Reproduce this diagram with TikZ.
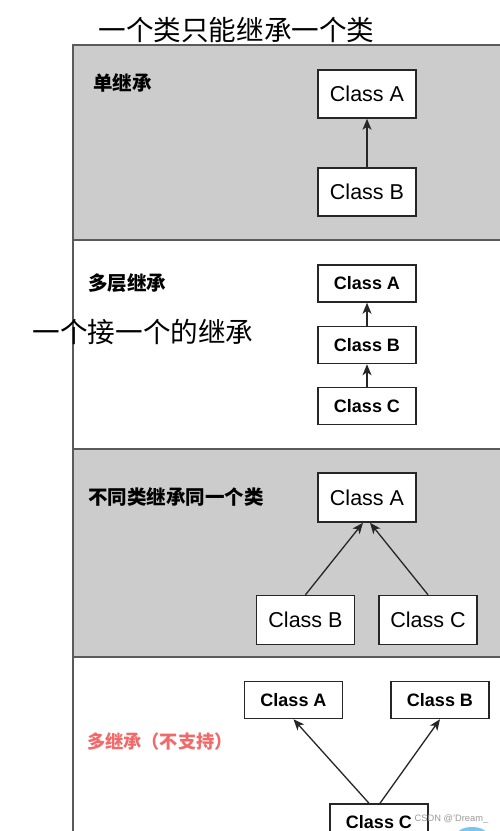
\documentclass[tikz,border=0pt]{standalone}
\usepackage{fontspec}
\setmainfont{Liberation Sans}
\newfontfamily\cjk{Noto Sans CJK SC}
\usetikzlibrary{arrows.meta}
\definecolor{panelgray}{HTML}{CCCCCC}
\definecolor{panelline}{HTML}{5A5A5A}
\definecolor{redlabel}{HTML}{F36868}
\definecolor{wmgray}{HTML}{9A9A9A}
\definecolor{blob}{HTML}{5BB8EE}
\tikzset{
  panel/.style={draw=panelline, line width=1.6pt},
  cls/.style={draw=black!85, fill=white, line width=1.5pt, minimum width=98pt, inner sep=0pt, font=\fontsize{21.5}{24}\selectfont},
  clsb/.style={cls, font=\fontsize{18}{21}\selectfont\bfseries},
  lbl/.style={anchor=west, inner sep=0pt, font=\cjk\fontsize{19.5}{22}\selectfont\bfseries},
  note/.style={inner sep=0pt, font=\cjk\fontsize{27.6}{30}\selectfont},
  inh/.style={draw=black!85, line width=1.3pt, -{Stealth[length=11pt,width=9pt,inset=3pt]}}
}
\begin{document}
\begin{tikzpicture}[x=1pt,y=-1pt]
\useasboundingbox (0,0) rectangle (500,831);
\clip (0,0) rectangle (500,831);
\fill[white] (0,0) rectangle (500,831);
% panels
\draw[panel, fill=panelgray] (73,45) rectangle (520,240);
\draw[panel, fill=white] (73,240) rectangle (520,449);
\draw[panel, fill=panelgray] (73,449) rectangle (520,657);
\draw[panel, fill=white] (73,657) rectangle (520,860);
% titles and notes
\node[note] (title) at (236.5,30) {一个类只能继承一个类};
% panel 1
\node[lbl] (l1) at (93,83) {单继承};
\node[cls, minimum height=48pt] (a1) at (367,94) {Class A};
\node[cls, minimum height=48pt] (b1) at (367,192) {Class B};
\draw[inh] (b1) -- (a1);
% panel 2
\node[lbl] (l2) at (88,283) {多层继承};
\node[clsb, minimum height=37pt] (a2) at (367,283.5) {Class A};
\node[clsb, minimum height=37pt] (b2) at (367,345) {Class B};
\node[clsb, minimum height=37pt] (c2) at (367,406) {Class C};
\draw[inh] (b2) -- (a2);
\draw[inh] (c2) -- (b2);
\node[note] (n2) at (143,331.5) {一个接一个的继承};
% panel 3
\node[lbl] (l3) at (88,497) {不同类继承同一个类};
\node[cls, minimum height=49pt] (a3) at (367,497.5) {Class A};
\node[cls, minimum height=49pt] (b3) at (305.5,620) {Class B};
\node[cls, minimum height=49pt] (c3) at (428,620) {Class C};
\draw[inh] (b3.north) -- ([xshift=-4pt]a3.south);
\draw[inh] (c3.north) -- ([xshift=3pt]a3.south);
% panel 4
\node[lbl, text=redlabel, font=\cjk\fontsize{18.2}{21}\selectfont\bfseries] (l4) at (87,742) {多继承（不支持）};
\node[clsb, minimum height=37pt] (a4) at (293.5,700) {Class A};
\node[clsb, minimum height=37pt] (b4) at (440,700) {Class B};
\node[clsb, minimum height=37pt] (c4) at (379,822.5) {Class C};
\draw[inh] ([xshift=-10pt]c4.north) -- (a4.south);
\draw[inh] ([xshift=1pt]c4.north) -- (b4.south);
% watermark
\fill[blob, opacity=0.8] (472,833) ellipse (14pt and 6pt);
\node[text=wmgray, inner sep=0pt, font=\fontsize{9.3}{11}\selectfont] (wm) at (451.5,819) {CSDN @'Dream\_};
\end{tikzpicture}
\end{document}
